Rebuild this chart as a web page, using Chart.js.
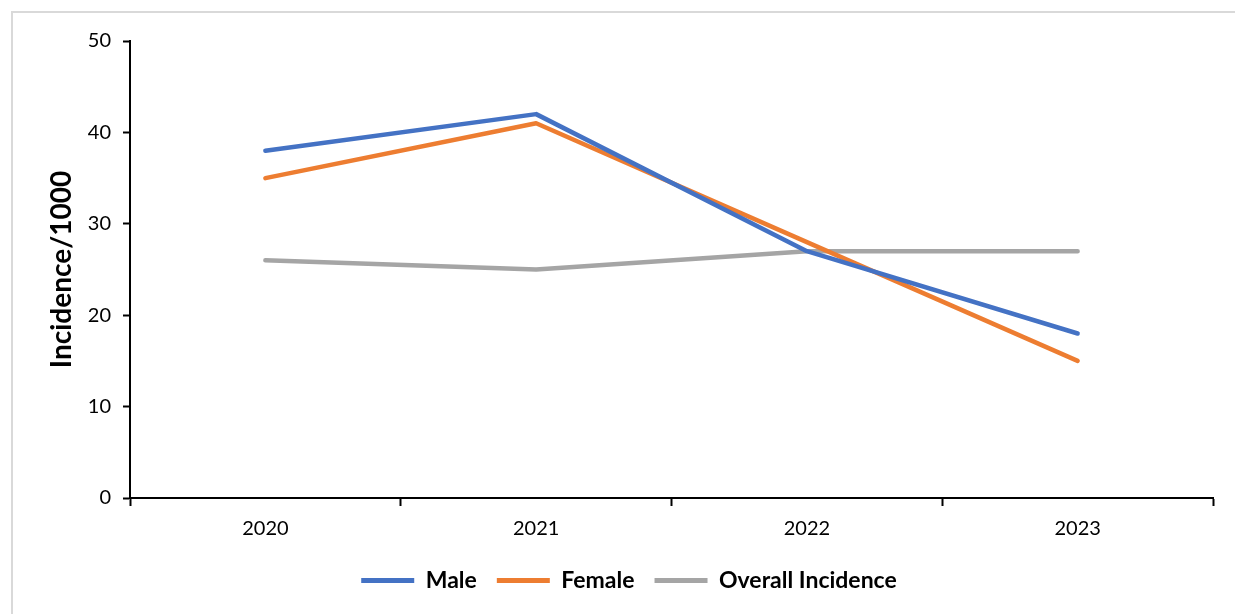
<!DOCTYPE html>
<html lang="en">
<head>
  <meta charset="UTF-8">
  <title>Incidence per 1000</title>
  <script src="https://cdn.jsdelivr.net/npm/chart.js"></script>
  <style>
    html, body { margin: 0; padding: 0; background: #fff; overflow: hidden; }
    #frame {
      position: absolute; left: 11px; top: 11px; width: 1300px; height: 700px;
      border-left: 2px solid #d9d9d9; border-top: 2px solid #d9d9d9;
    }
    #wrap { position: absolute; left: 0; top: 0; width: 1235px; height: 614px; }
  </style>
</head>
<body>
  <div id="frame"></div>
  <div id="wrap"><canvas id="incidenceChart"></canvas></div>

  <script>
    // data
    const years = ['2020', '2021', '2022', '2023'];
    const maleValues = [38, 42, 27, 18];
    const femaleValues = [35, 41, 28, 15];
    const overallValues = [26, 25, 27, 27];
    const yTicks = [0, 10, 20, 30, 40, 50];

    const font = "Lato, 'Liberation Sans', sans-serif";

    function series(label, data, color) {
      return {
        label: label,
        data: data,
        borderColor: color,
        backgroundColor: color,
        borderWidth: 4.5,
        borderCapStyle: 'round',
        borderJoinStyle: 'round',
        pointRadius: 0,
        pointHoverRadius: 0,
        tension: 0
      };
    }

    const ctx = document.getElementById('incidenceChart').getContext('2d');
    new Chart(ctx, {
      type: 'line',
      data: {
        labels: years,
        datasets: [
          series('Male', maleValues, '#4472C4'),
          series('Female', femaleValues, '#ED7D31'),
          series('Overall Incidence', overallValues, '#A5A5A5')
        ]
      },
      options: {
        responsive: true,
        maintainAspectRatio: false,
        animation: false,
        layout: { padding: { left: 45, top: 41, right: 22, bottom: 12 } },
        plugins: {
          tooltip: { enabled: false },
          legend: {
            position: 'bottom',
            labels: {
              color: '#000',
              font: { family: font, size: 23, weight: 'bold' },
              boxWidth: 53,
              boxHeight: 5,
              padding: 20,
              generateLabels: (chart) => chart.data.datasets.map((ds, i) => ({
                text: ds.label,
                fillStyle: ds.borderColor,
                strokeStyle: ds.borderColor,
                lineWidth: 0,
                datasetIndex: i,
                fontColor: '#000'
              }))
            }
          }
        },
        scales: {
          x: {
            offset: true,
            afterFit: (scale) => { scale.height = 51; },
            grid: {
              offset: true,
              drawOnChartArea: false,
              drawTicks: true,
              tickLength: 8,
              tickWidth: 2,
              tickColor: '#000'
            },
            border: { display: true, color: '#000', width: 2 },
            ticks: {
              color: '#000',
              padding: 11,
              font: { family: font, size: 20 }
            }
          },
          y: {
            min: 0,
            max: 50,
            afterFit: (scale) => { scale.width = 85; },
            afterBuildTicks: (scale) => { scale.ticks = yTicks.map(v => ({ value: v })); },
            grid: {
              drawOnChartArea: false,
              drawTicks: true,
              tickLength: 7,
              tickWidth: 2,
              tickColor: '#000'
            },
            border: { display: true, color: '#000', width: 2 },
            ticks: {
              color: '#000',
              padding: 12,
              font: { family: font, size: 20 }
            },
            title: {
              display: true,
              text: 'Incidence/1000',
              color: '#000',
              padding: { top: 0, bottom: 0 },
              font: { family: font, size: 28, weight: 'bold' }
            }
          }
        }
      }
    });
  </script>
</body>
</html>
